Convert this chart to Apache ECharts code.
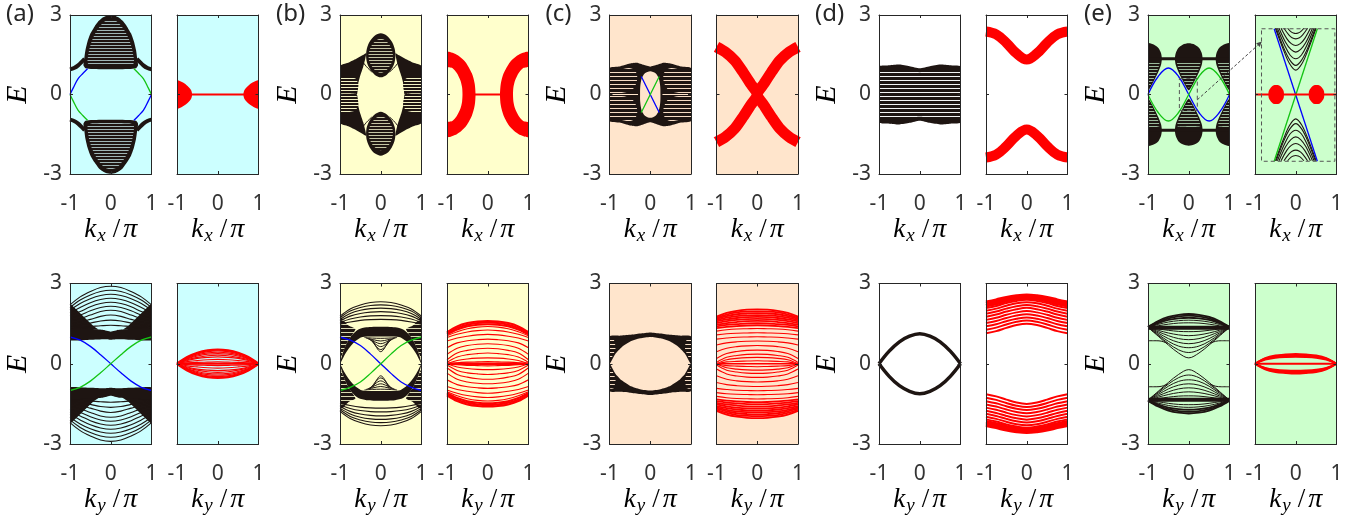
<!DOCTYPE html>
<html>
<head>
<meta charset="utf-8">
<script src="https://cdn.jsdelivr.net/npm/echarts/dist/echarts.min.js"></script>
<style>
html, body { margin: 0; padding: 0; background: #ffffff; }
#chart { width: 1364px; height: 525px; }
</style>
</head>
<body>
<div id="chart"></div>
<script>
// ---------- shared axis data ----------
const X_TICKS = [-1, 0, 1];
const E_TICKS = [-3, 0, 3];
const K9 = [-1, -0.75, -0.5, -0.25, 0, 0.25, 0.5, 0.75, 1];
const GROUP_TAG = ['(a)', '(b)', '(c)', '(d)', '(e)'];
const ROW_SUB = ['x', 'y'];

// ---------- (a) ----------
// kx cut: bulk domes, side wings and chiral edge branches
const aDome = [[0,2.99],[-0.12,2.96],[-0.22,2.88],[-0.3,2.77],[-0.4,2.56],[-0.5,2.3],[-0.57,2.0],[-0.62,1.68],[-0.65,1.35],[-0.67,1.1],[-0.62,0.99],[-0.45,0.96],[0,0.95],[0.45,0.96],[0.62,0.99],[0.67,1.1],[0.65,1.35],[0.62,1.68],[0.57,2.0],[0.5,2.3],[0.4,2.56],[0.3,2.77],[0.22,2.88],[0.12,2.96]];
const aDomeCore = [[0,2.82],[-0.14,2.76],[-0.25,2.6],[-0.36,2.36],[-0.45,2.08],[-0.52,1.75],[-0.56,1.42],[-0.57,1.2],[-0.5,1.1],[0,1.08],[0.5,1.1],[0.57,1.2],[0.56,1.42],[0.52,1.75],[0.45,2.08],[0.36,2.36],[0.25,2.6],[0.14,2.76]];
const aWing = [[-1,0.95],[-0.9,1.0],[-0.8,1.1],[-0.7,1.25],[-0.64,1.35]];
const aEdgeUp = [[-0.57,0.97],[-0.68,0.8],[-0.8,0.6],[-0.92,0.25],[-1,0]];
// kx cut, second panel
const aRedCap = [[-1,0.52],[-0.88,0.47],[-0.77,0.36],[-0.66,0.18],[-0.63,0],[-0.66,-0.18],[-0.77,-0.36],[-0.88,-0.47],[-1,-0.52]];
// ky cut: nested bulk arcs (E at k = -1, -0.75, -0.5, -0.25, 0)
const aBulkArcs = [
  [2.2,2.5,2.7,2.85,2.9],[2.1,2.38,2.57,2.7,2.75],[2.0,2.25,2.43,2.55,2.6],
  [1.9,2.1,2.28,2.4,2.45],[1.8,1.95,2.13,2.25,2.3],[1.7,1.82,1.98,2.1,2.15],
  [1.6,1.68,1.82,1.95,2.0],[1.5,1.56,1.66,1.77,1.82],[1.42,1.46,1.52,1.6,1.63],
  [1.35,1.37,1.39,1.42,1.44]
];
const aWedge = [[-1,2.25],[-0.8,1.96],[-0.6,1.66],[-0.42,1.4],[-0.3,1.28],[-1,1.28]];
const aBand = [[-1,1.3],[-0.5,1.3],[-0.2,1.27],[0,1.2],[0.2,1.27],[0.5,1.3],[1,1.3],[1,0.88],[0.5,0.9],[0.15,0.92],[0,0.9],[-0.15,0.92],[-0.5,0.9],[-1,0.88]];
const aEdgeY = [1.0,0.88,0.65,0.34,0,-0.34,-0.65,-0.88,-1.0];
const aLens = [
  [0,0.25,0.41,0.5,0.53],[0,0.23,0.37,0.45,0.48],[0,0.2,0.33,0.41,0.43],
  [0,0.18,0.29,0.36,0.38],[0,0.15,0.24,0.3,0.32],[0,0.12,0.2,0.24,0.26],
  [0,0.08,0.12,0.15,0.16],[0,0.03,0.05,0.06,0.07]
];

// ---------- (b) ----------
const bEllipse = [[0,2.31],[0.15,2.22],[0.27,2.0],[0.34,1.74],[0.36,1.48],[0.34,1.22],[0.27,0.97],[0.15,0.75],[0,0.65],[-0.15,0.75],[-0.27,0.97],[-0.34,1.22],[-0.36,1.48],[-0.34,1.74],[-0.27,2.0],[-0.15,2.22]];
const bEllipseCore = [[0,2.1],[0.12,2.03],[0.22,1.86],[0.28,1.65],[0.3,1.46],[0.28,1.25],[0.21,1.05],[0.11,0.88],[0,0.82],[-0.11,0.88],[-0.21,1.05],[-0.28,1.25],[-0.3,1.46],[-0.28,1.65],[-0.22,1.86],[-0.12,2.03]];
const bSide = [[-1,1.08],[-0.8,1.2],[-0.6,1.35],[-0.45,1.48],[-0.36,1.56],[-0.38,1.35],[-0.43,1.05],[-0.51,0.68],[-0.57,0.3],[-0.59,0],[-1,0]];
const bSideCore = [[-1,0.65],[-0.8,0.66],[-0.62,0.6],[-0.55,0.4],[-0.56,0.2],[-0.6,0.06],[-1,0.06]];
const bThin = [[-0.45,1.25],[-0.35,1.05],[-0.22,0.85]];
const bRedArc = [[-1,1.6],[-0.76,1.5],[-0.55,1.23],[-0.39,0.8],[-0.32,0.41],[-0.3,0],[-0.32,-0.41],[-0.39,-0.8],[-0.55,-1.23],[-0.76,-1.5],[-1,-1.6],[-1,-1.06],[-0.87,-1.0],[-0.76,-0.81],[-0.67,-0.53],[-0.63,-0.27],[-0.62,0],[-0.63,0.27],[-0.67,0.53],[-0.76,0.81],[-0.87,1.0],[-1,1.06]];
const bRedLink = [[-0.32,0],[0.32,0]];
const bOuterArcs = [
  [1.78,2.05,2.2,2.29,2.32],[1.72,1.97,2.1,2.18,2.2],[1.66,1.88,2.0,2.06,2.08],
  [1.6,1.78,1.88,1.93,1.95],[1.54,1.67,1.75,1.79,1.8],[1.48,1.56,1.62,1.65,1.66]
];
const bEye = [[-1,0],[-0.92,0.45],[-0.82,0.8],[-0.7,1.08],[-0.55,1.28],[-0.35,1.36],[0,1.38],[0.35,1.36],[0.55,1.28],[0.7,1.08],[0.82,0.8],[0.92,0.45],[1,0],[0.88,0.35],[0.76,0.62],[0.62,0.85],[0.45,1.0],[0,1.02],[-0.45,1.0],[-0.62,0.85],[-0.76,0.62],[-0.88,0.35]];
const bFan = [[-1,1.78],[-0.9,1.6],[-0.78,1.42],[-0.62,1.3],[-0.7,1.08],[-0.82,0.8],[-0.92,0.45],[-1,0.2]];
const bInnerArcs = [
  [[-0.4,0.98],[-0.2,0.96],[0,0.95],[0.2,0.96],[0.4,0.98]],
  [[-0.36,0.96],[-0.18,0.9],[0,0.85],[0.18,0.9],[0.36,0.96]],
  [[-0.32,0.94],[-0.16,0.83],[0,0.75],[0.16,0.83],[0.32,0.94]],
  [[-0.28,0.93],[-0.14,0.75],[0,0.64],[0.14,0.75],[0.28,0.93]],
  [[-0.24,0.92],[-0.12,0.66],[0,0.53],[0.12,0.66],[0.24,0.92]],
  [[-0.2,0.92],[-0.1,0.6],[0,0.45],[0.1,0.6],[0.2,0.92]]
];
const bEdgeY = [1.0,0.88,0.68,0.36,0,-0.36,-0.68,-0.88,-1.0];
const bRedArcs = [
  [1.18,1.4,1.52,1.58,1.6],[1.14,1.34,1.46,1.52,1.54],[1.1,1.28,1.4,1.46,1.48],
  [1.05,1.2,1.31,1.37,1.39],[0.98,1.1,1.19,1.24,1.26],[0.85,0.96,1.03,1.08,1.1],
  [0.6,0.78,0.86,0.9,0.92],[0.35,0.58,0.68,0.73,0.75],[0.15,0.4,0.5,0.56,0.58],
  [0.05,0.25,0.34,0.38,0.4],[0,0.12,0.18,0.21,0.22],[0,0.04,0.06,0.07,0.08]
];

// ---------- (c) ----------
const cBody = [[-1,1.0],[-0.75,1.06],[-0.5,1.17],[-0.33,1.2],[-0.16,1.12],[0,1.05],[0.16,1.12],[0.33,1.2],[0.5,1.17],[0.75,1.06],[1,1.0],[1,-1.0],[0.75,-1.06],[0.5,-1.17],[0.33,-1.2],[0.16,-1.12],[0,-1.05],[-0.16,-1.12],[-0.33,-1.2],[-0.5,-1.17],[-0.75,-1.06],[-1,-1.0]];
const cHole = [[0,0.88],[0.13,0.8],[0.21,0.6],[0.245,0.3],[0.25,0],[0.245,-0.3],[0.21,-0.6],[0.13,-0.8],[0,-0.88],[-0.13,-0.8],[-0.21,-0.6],[-0.245,-0.3],[-0.25,0],[-0.245,0.3],[-0.21,0.6],[-0.13,0.8]];
const cCore = [[-1,0.88],[-0.75,0.94],[-0.52,1.0],[-0.38,0.92],[-0.32,0.68],[-0.35,0.4],[-0.46,0.16],[-0.7,0.06],[-1,0.06]];
const cEdge = [[-0.22,0.68],[0,0],[0.22,-0.68]];
const cRedArm = [[-1,1.8],[-0.78,1.6],[-0.55,1.28],[-0.35,0.85],[-0.17,0.42],[0,0],[-0.17,-0.42],[-0.35,-0.85],[-0.55,-1.28],[-0.78,-1.6],[-1,-1.8]];
const cLens = [[-1,1.02],[-0.75,1.05],[-0.5,1.08],[-0.25,1.13],[0,1.17],[0.25,1.13],[0.5,1.08],[0.75,1.05],[1,1.02],[1,0],[0.85,0.38],[0.7,0.62],[0.5,0.82],[0.25,0.95],[0,1.0],[-0.25,0.95],[-0.5,0.82],[-0.7,0.62],[-0.85,0.38],[-1,0]];
const cFan = [[-1,0.92],[-0.9,0.92],[-0.85,0.6],[-0.92,0.3],[-1,0.15]];
const cRedArcs = [
  [1.76,1.9,1.98,2.02,2.03],[1.72,1.84,1.92,1.95,1.96],[1.68,1.78,1.85,1.88,1.89],
  [1.63,1.72,1.78,1.81,1.82],[1.58,1.66,1.71,1.74,1.75],[1.52,1.59,1.64,1.67,1.68],
  [1.46,1.52,1.56,1.59,1.6],[1.4,1.45,1.48,1.51,1.52],[1.33,1.38,1.41,1.43,1.44],
  [1.22,1.27,1.3,1.31,1.32],[1.08,1.12,1.14,1.15,1.16],[0.92,0.96,0.99,1.0,1.01],
  [0.7,0.78,0.82,0.84,0.85],[0.45,0.58,0.64,0.67,0.68],[0.2,0.38,0.46,0.5,0.51],
  [0.05,0.24,0.31,0.35,0.36],[0,0.15,0.2,0.23,0.24],[0,0.07,0.09,0.1,0.11]
];

// ---------- (d) ----------
const dBody = [[-1,1.05],[-0.75,1.1],[-0.5,1.13],[-0.25,1.07],[0,0.99],[0.25,1.07],[0.5,1.13],[0.75,1.1],[1,1.05],[1,-1.05],[0.75,-1.1],[0.5,-1.13],[0.25,-1.07],[0,-0.99],[-0.25,-1.07],[-0.5,-1.13],[-0.75,-1.1],[-1,-1.05]];
const dCore = [[-1,0.88],[-0.5,0.95],[0,0.84],[0.5,0.95],[1,0.88],[1,-0.88],[0.5,-0.95],[0,-0.84],[-0.5,-0.95],[-1,-0.88]];
const dRedValley = [2.38,2.27,1.95,1.55,1.32];
const dLensY = [0,0.47,0.82,1.03,1.12];
const dRedBand = [
  [2.3,2.38,2.47,2.53,2.56],[2.24,2.32,2.42,2.49,2.52],[2.17,2.25,2.35,2.43,2.46],
  [2.08,2.16,2.27,2.35,2.39],[1.98,2.06,2.17,2.26,2.3],[1.87,1.95,2.06,2.15,2.2],
  [1.76,1.84,1.95,2.04,2.09],[1.64,1.72,1.83,1.92,1.97],[1.52,1.6,1.71,1.8,1.85],
  [1.4,1.48,1.59,1.68,1.73],[1.27,1.35,1.47,1.57,1.62],[1.14,1.22,1.34,1.45,1.5]
];

// ---------- (e) ----------
const eBlob = [[0,1.93],[-0.15,1.88],[-0.26,1.75],[-0.32,1.56],[-0.34,1.35],[-0.32,1.12],[-0.26,0.88],[-0.18,0.62],[-0.1,0.38],[-0.03,0.2],[0,0.16],[0.03,0.2],[0.1,0.38],[0.18,0.62],[0.26,0.88],[0.32,1.12],[0.34,1.35],[0.32,1.56],[0.26,1.75],[0.15,1.88]];
const eBlobCore = [[-0.28,1.2],[0.28,1.2],[0.23,0.9],[0.15,0.62],[0.08,0.4],[0,0.26],[-0.08,0.4],[-0.15,0.62],[-0.23,0.9]];
const eSideBlob = [[-1,1.93],[-0.85,1.88],[-0.74,1.75],[-0.68,1.56],[-0.66,1.35],[-0.68,1.12],[-0.74,0.88],[-0.82,0.62],[-0.9,0.38],[-0.97,0.2],[-1,0.16]];
const eSideCore = [[-1,1.2],[-0.72,1.2],[-0.77,0.9],[-0.85,0.62],[-0.92,0.4],[-1,0.26]];
const eLevel = [[-1,1.35],[1,1.35]];
const eEdgeY = [0,0.68,1.0,0.68,0,-0.68,-1.0,-0.68,0];
const eBox = [[-0.23,0.6],[0.21,0.6],[0.21,-0.6],[-0.23,-0.6],[-0.23,0.6]];
const eInsetBox = [[-0.84,2.48],[0.96,2.48],[0.96,-2.52],[-0.84,-2.52],[-0.84,2.48]];
const eInsetEdge = [[-0.53,2.48],[0.53,-2.52]];
const eCones = [
  [[-0.2,2.5],[-0.12,2.37],[-0.06,2.32],[0,2.3],[0.06,2.32],[0.12,2.37],[0.2,2.5]],
  [[-0.29,2.5],[-0.17,2.25],[-0.09,2.14],[0,2.1],[0.09,2.14],[0.17,2.25],[0.29,2.5]],
  [[-0.36,2.5],[-0.22,2.11],[-0.11,1.92],[0,1.85],[0.11,1.92],[0.22,2.11],[0.36,2.5]],
  [[-0.41,2.5],[-0.25,1.97],[-0.12,1.7],[0,1.6],[0.12,1.7],[0.25,1.97],[0.41,2.5]],
  [[-0.45,2.5],[-0.27,1.85],[-0.14,1.49],[0,1.35],[0.14,1.49],[0.27,1.85],[0.45,2.5]],
  [[-0.48,2.5],[-0.29,1.74],[-0.14,1.29],[0,1.1],[0.14,1.29],[0.29,1.74],[0.48,2.5]],
  [[-0.5,2.5],[-0.3,1.68],[-0.15,1.16],[0,0.92],[0.15,1.16],[0.3,1.68],[0.5,2.5]]
];
const eDotL = [[-0.48,0.36],[-0.35,0.26],[-0.29,0],[-0.35,-0.26],[-0.48,-0.36],[-0.61,-0.26],[-0.67,0],[-0.61,0.26]];
const eDotR = [[0.51,0.36],[0.64,0.26],[0.7,0],[0.64,-0.26],[0.51,-0.36],[0.38,-0.26],[0.32,0],[0.38,0.26]];
const eArrowFrom = [0.21, -0.2];
const eArrowTo = [-0.83, 2.0];
const eTopArcs = [
  [1.38,1.6,1.75,1.83,1.86],[1.37,1.56,1.7,1.77,1.8],[1.36,1.52,1.64,1.7,1.72],
  [1.36,1.47,1.56,1.61,1.63],[1.36,1.42,1.48,1.52,1.53]
];
const eVArcs = [
  [1.36,1.3,1.25,1.21,1.2],[1.36,1.25,1.15,1.08,1.05],[1.36,1.2,1.05,0.94,0.9],
  [1.36,1.15,0.94,0.8,0.75],[1.36,1.1,0.84,0.66,0.6],[1.36,1.06,0.76,0.52,0.42],
  [1.36,1.03,0.7,0.4,0.22]
];
const eSideLine = [[-1,0.86],[-0.8,0.86],[-0.66,0.84],[-0.52,0.76]];
const eLens = [[0,0.21,0.31,0.35,0.37],[0,0.19,0.28,0.32,0.33],[0,0.17,0.25,0.28,0.29],[0,0.15,0.22,0.25,0.26]];

// ---------- styling ----------
const FRAME = '#262626';
const INK = '#1e1512';
const RED = '#ff0000';
const BLUE = '#0000ff';
const GREEN = '#14c414';
const BOXGRAY = '#555555';
const TICK_FONT = 'Noto Sans';
const MATH_FONT = 'Liberation Serif';
const GROUP_BG = ['#ccffff', '#ffffcc', '#ffe5cc', '#ffffff', '#ccffcc'];
const GROUP_LEFT = [70, 340, 609.5, 879, 1148];
const PANEL_STEP = 107, PANEL_W = 81.5;
const ROW_TOP = [15, 283.5], ROW_H = [159, 160.5];

// thin light lines on a dark ground, used for densely packed bands
function stripes(dark, light, period, lightW) {
  const c = document.createElement('canvas');
  c.width = 4; c.height = period;
  const ctx = c.getContext('2d');
  ctx.fillStyle = dark; ctx.fillRect(0, 0, 4, period);
  ctx.fillStyle = light; ctx.fillRect(0, 0, 4, lightW);
  return { image: c, repeat: 'repeat' };
}
const STRIPE = {
  a: stripes(INK, '#9fb5b5', 3, 1),
  b: stripes(INK, '#c4c4a4', 3, 1),
  bSide: stripes(INK, '#f2f2c4', 3, 1),
  bFan: stripes(INK, '#d8d8b0', 4, 1),
  c: stripes(INK, '#f5dcc4', 4, 1),
  d: stripes(INK, '#f4f4f4', 4, 1),
  e: stripes(INK, '#9ab89a', 3, 1)
};

// ---------- helpers ----------
const sym = v => K9.map((k, i) => [k, v[i <= 4 ? i : 8 - i]]);
const full = v => K9.map((k, i) => [k, v[i]]);
const flipE = pts => pts.map(([k, e]) => [k, -e]);
const flipK = pts => pts.map(([k, e]) => [-k, e]);
const four = pts => [pts, flipK(pts), flipE(pts), flipE(flipK(pts))];
const gi = (row, grp, pan) => row * 10 + grp * 2 + pan;

const series = [];
function poly(g, pts, fill, o = {}) {
  series.push({
    type: 'custom', coordinateSystem: 'cartesian2d',
    xAxisIndex: 2 * g, yAxisIndex: 2 * g,
    data: [pts[0]], clip: true, silent: true, z: o.z || 2,
    renderItem: (params, api) => ({
      type: 'polygon',
      shape: { points: pts.map(p => api.coord(p)), smooth: o.smooth === undefined ? 0.25 : o.smooth },
      style: { fill: fill, stroke: o.stroke || null, lineWidth: o.lw || 0 }
    })
  });
}
function curve(g, pts, color, width, o = {}) {
  series.push({
    type: 'line', xAxisIndex: 2 * g, yAxisIndex: 2 * g, data: pts,
    symbol: 'none', showSymbol: false, silent: true, clip: true, z: o.z || 3,
    smooth: o.smooth === undefined ? 0.35 : o.smooth,
    lineStyle: { color: color, width: width, type: o.dash ? [4, 3] : 'solid' }
  });
}

// ---------- (a) panels ----------
(function () {
  let g = gi(0, 0, 0);
  [aDome, flipE(aDome)].forEach(p => poly(g, p, INK, { smooth: 0.2 }));
  [aDomeCore, flipE(aDomeCore)].forEach(p => poly(g, p, STRIPE.a, { smooth: 0.2 }));
  four(aWing).forEach(p => curve(g, p, INK, 4));
  curve(g, aEdgeUp, BLUE, 1.3);
  curve(g, flipK(aEdgeUp), GREEN, 1.3);
  curve(g, flipE(aEdgeUp), GREEN, 1.3);
  curve(g, flipE(flipK(aEdgeUp)), BLUE, 1.3);

  g = gi(0, 0, 1);
  poly(g, aRedCap, RED, { smooth: 0.3 });
  poly(g, flipK(aRedCap), RED, { smooth: 0.3 });
  curve(g, [[-1, 0], [1, 0]], RED, 2, { smooth: 0 });

  g = gi(1, 0, 0);
  aBulkArcs.forEach(v => { curve(g, sym(v), INK, 1.1); curve(g, flipE(sym(v)), INK, 1.1); });
  four(aWedge).forEach(p => poly(g, p, INK, { smooth: 0 }));
  [aBand, flipE(aBand)].forEach(p => poly(g, p, INK, { smooth: 0.15 }));
  curve(g, full(aEdgeY), BLUE, 1.3, { z: 5 });
  curve(g, flipK(full(aEdgeY)), GREEN, 1.3, { z: 5 });

  g = gi(1, 0, 1);
  aLens.forEach((v, i) => {
    const w = i === 0 ? 2.2 : 1.2;
    curve(g, sym(v), RED, w); curve(g, flipE(sym(v)), RED, w);
  });
  curve(g, [[-1, 0], [1, 0]], RED, 2, { smooth: 0 });
})();

// ---------- (b) panels ----------
(function () {
  let g = gi(0, 1, 0);
  four(bSide).forEach(p => poly(g, p, INK, { smooth: 0.2 }));
  four(bSideCore).forEach(p => poly(g, p, STRIPE.bSide, { smooth: 0.2 }));
  [bEllipse, flipE(bEllipse)].forEach(p => poly(g, p, INK, { smooth: 0.3 }));
  [bEllipseCore, flipE(bEllipseCore)].forEach(p => poly(g, p, STRIPE.b, { smooth: 0.3 }));
  four(bThin).forEach(p => curve(g, p, INK, 1));

  g = gi(0, 1, 1);
  poly(g, bRedArc, RED, { smooth: 0.25 });
  poly(g, flipK(bRedArc), RED, { smooth: 0.25 });
  curve(g, bRedLink, RED, 2, { smooth: 0 });

  g = gi(1, 1, 0);
  bOuterArcs.forEach(v => { curve(g, sym(v), INK, 1.1); curve(g, flipE(sym(v)), INK, 1.1); });
  four(bFan).forEach(p => poly(g, p, STRIPE.bFan, { smooth: 0.15 }));
  [bEye, flipE(bEye)].forEach(p => poly(g, p, INK, { smooth: 0.25 }));
  bInnerArcs.forEach(p => { curve(g, p, INK, 1); curve(g, flipE(p), INK, 1); });
  curve(g, full(bEdgeY), BLUE, 1.3, { z: 5 });
  curve(g, flipK(full(bEdgeY)), GREEN, 1.3, { z: 5 });

  g = gi(1, 1, 1);
  bRedArcs.forEach((v, i) => {
    const w = i < 3 ? 2 : 1.1;
    curve(g, sym(v), RED, w); curve(g, flipE(sym(v)), RED, w);
  });
  curve(g, [[-1, 0], [1, 0]], RED, 2.5, { smooth: 0 });
})();

// ---------- (c) panels ----------
(function () {
  let g = gi(0, 2, 0);
  poly(g, cBody, INK, { smooth: 0.15 });
  four(cCore).forEach(p => poly(g, p, STRIPE.c, { smooth: 0.3 }));
  curve(g, [[-1, 0], [-0.3, 0]], GROUP_BG[2], 1.2, { smooth: 0 });
  curve(g, [[0.3, 0], [1, 0]], GROUP_BG[2], 1.2, { smooth: 0 });
  poly(g, cHole, GROUP_BG[2], { smooth: 0.3, z: 4 });
  curve(g, cEdge, BLUE, 1.3, { smooth: 0, z: 5 });
  curve(g, flipK(cEdge), GREEN, 1.3, { smooth: 0, z: 5 });

  g = gi(0, 2, 1);
  curve(g, cRedArm, RED, 11, { smooth: 0.25 });
  curve(g, flipK(cRedArm), RED, 11, { smooth: 0.25 });

  g = gi(1, 2, 0);
  [cLens, flipE(cLens)].forEach(p => poly(g, p, INK, { smooth: 0.2 }));
  four(cFan).forEach(p => poly(g, p, STRIPE.c, { smooth: 0.2 }));

  g = gi(1, 2, 1);
  cRedArcs.forEach((v, i) => {
    const w = i < 9 ? 1.8 : 1.1;
    curve(g, sym(v), RED, w); curve(g, flipE(sym(v)), RED, w);
  });
  curve(g, [[-1, 0], [1, 0]], RED, 1.5, { smooth: 0 });
})();

// ---------- (d) panels ----------
(function () {
  let g = gi(0, 3, 0);
  poly(g, dBody, INK, { smooth: 0.2 });
  poly(g, dCore, STRIPE.d, { smooth: 0.2 });

  g = gi(0, 3, 1);
  curve(g, sym(dRedValley), RED, 10, { smooth: 0.4 });
  curve(g, flipE(sym(dRedValley)), RED, 10, { smooth: 0.4 });

  g = gi(1, 3, 0);
  curve(g, sym(dLensY), INK, 3.5, { smooth: 0.4 });
  curve(g, flipE(sym(dLensY)), INK, 3.5, { smooth: 0.4 });

  g = gi(1, 3, 1);
  dRedBand.forEach((v, i) => {
    const w = i < 3 ? 3.5 : 2;
    curve(g, sym(v), RED, w); curve(g, flipE(sym(v)), RED, w);
  });
})();

// ---------- (e) panels ----------
(function () {
  let g = gi(0, 4, 0);
  [eLevel, flipE(eLevel)].forEach(p => curve(g, p, INK, 3, { smooth: 0 }));
  [eBlob, flipE(eBlob)].forEach(p => poly(g, p, INK, { smooth: 0.25 }));
  four(eSideBlob).forEach(p => poly(g, p, INK, { smooth: 0.25 }));
  [eBlobCore, flipE(eBlobCore)].forEach(p => poly(g, p, STRIPE.e, { smooth: 0.2 }));
  four(eSideCore).forEach(p => poly(g, p, STRIPE.e, { smooth: 0.2 }));
  curve(g, eBox, BOXGRAY, 1, { smooth: 0, dash: true, z: 6 });
  curve(g, full(eEdgeY), BLUE, 1.3, { smooth: 0.4, z: 5 });
  curve(g, flipE(full(eEdgeY)), GREEN, 1.3, { smooth: 0.4, z: 5 });

  g = gi(0, 4, 1);
  eCones.forEach(p => { curve(g, p, INK, 1.1); curve(g, flipE(p), INK, 1.1); });
  curve(g, eInsetEdge, BLUE, 1.3, { smooth: 0, z: 5 });
  curve(g, flipK(eInsetEdge), GREEN, 1.3, { smooth: 0, z: 5 });
  curve(g, [[-1, 0], [1, 0]], RED, 2, { smooth: 0, z: 6 });
  poly(g, eDotL, RED, { smooth: 0.5, z: 6 });
  poly(g, eDotR, RED, { smooth: 0.5, z: 6 });
  curve(g, eInsetBox, BOXGRAY, 1, { smooth: 0, dash: true, z: 6 });

  g = gi(1, 4, 0);
  [eLevel, flipE(eLevel)].forEach(p => curve(g, p, INK, 4, { smooth: 0 }));
  eTopArcs.forEach((v, i) => {
    const w = i < 3 ? 1.8 : 1;
    curve(g, sym(v), INK, w); curve(g, flipE(sym(v)), INK, w);
  });
  eVArcs.forEach(v => { curve(g, sym(v), INK, 1); curve(g, flipE(sym(v)), INK, 1); });
  four(eSideLine).forEach(p => curve(g, p, INK, 1));

  g = gi(1, 4, 1);
  eLens.forEach(v => { curve(g, sym(v), RED, 1.8); curve(g, flipE(sym(v)), RED, 1.8); });
  curve(g, [[-1, 0], [1, 0]], RED, 2.2, { smooth: 0 });
})();

// ---------- grids and axes ----------
const grids = [], xAxes = [], yAxes = [];
const tickLabel = { fontFamily: TICK_FONT, fontSize: 21, color: '#333333' };
const mathRich = {
  k: { fontFamily: MATH_FONT, fontStyle: 'italic', fontSize: 27, lineHeight: 32, color: '#000' },
  s: { fontFamily: MATH_FONT, fontStyle: 'italic', fontSize: 19, lineHeight: 15, verticalAlign: 'bottom', color: '#000', padding: [0, 4, 0, 1] },
  d: { fontFamily: MATH_FONT, fontSize: 27, lineHeight: 32, color: '#000', padding: [0, 3, 0, 3] },
  p: { fontFamily: MATH_FONT, fontStyle: 'italic', fontSize: 28, lineHeight: 32, color: '#000' }
};
for (let r = 0; r < 2; r++) {
  for (let g = 0; g < 5; g++) {
    for (let p = 0; p < 2; p++) {
      const i = gi(r, g, p);
      grids[i] = {
        left: GROUP_LEFT[g] + p * PANEL_STEP, top: ROW_TOP[r],
        width: PANEL_W, height: ROW_H[r],
        show: true, backgroundColor: GROUP_BG[g], borderWidth: 0
      };
      const line = { show: true, onZero: false, lineStyle: { color: FRAME, width: 1 } };
      const tick = { show: true, inside: true, length: 3, lineStyle: { color: FRAME, width: 1 } };
      const xBase = {
        gridIndex: i, type: 'value', min: X_TICKS[0], max: X_TICKS[X_TICKS.length - 1],
        interval: X_TICKS[1] - X_TICKS[0], splitLine: { show: false },
        axisLine: line, axisTick: tick, z: 10
      };
      const yBase = {
        gridIndex: i, type: 'value', min: E_TICKS[0], max: E_TICKS[E_TICKS.length - 1],
        interval: E_TICKS[1] - E_TICKS[0], splitLine: { show: false },
        axisLine: line, axisTick: tick, z: 10
      };
      xAxes[2 * i] = Object.assign({}, xBase, {
        position: 'bottom',
        axisLabel: Object.assign({ margin: 20 }, tickLabel),
        name: '{k|k}{s|' + ROW_SUB[r] + '}{d|/}{p|π}',
        nameLocation: 'middle', nameGap: 38,
        nameTextStyle: { rich: mathRich }
      });
      xAxes[2 * i + 1] = Object.assign({}, xBase, { position: 'top', axisLabel: { show: false } });
      yAxes[2 * i] = Object.assign({}, yBase, {
        position: 'left',
        axisLabel: Object.assign({ show: p === 0, margin: 8 }, tickLabel),
        name: p === 0 ? 'E' : '', nameLocation: 'middle', nameGap: 37,
        nameTextStyle: { fontFamily: MATH_FONT, fontStyle: 'italic', fontSize: 30, color: '#000' }
      });
      yAxes[2 * i + 1] = Object.assign({}, yBase, { position: 'right', axisLabel: { show: false } });
    }
  }
}

const tags = GROUP_TAG.map((t, g) => ({
  type: 'text', left: GROUP_LEFT[g] - 64, top: 2, z: 100,
  style: { text: t, font: '24px "Noto Sans"', fill: '#262626' }
}));

const chart = echarts.init(document.getElementById('chart'), null, { renderer: 'canvas' });
chart.setOption({
  animation: false,
  grid: grids, xAxis: xAxes, yAxis: yAxes,
  series: series,
  graphic: tags
});

// dashed pointer from the box in (e) to the magnified frame
const from = chart.convertToPixel({ xAxisIndex: 2 * gi(0, 4, 0), yAxisIndex: 2 * gi(0, 4, 0) }, eArrowFrom);
const to = chart.convertToPixel({ xAxisIndex: 2 * gi(0, 4, 1), yAxisIndex: 2 * gi(0, 4, 1) }, eArrowTo);
const ang = Math.atan2(to[1] - from[1], to[0] - from[0]);
const head = 6, spread = 0.45;
const tip = to;
const base = [tip[0] - head * Math.cos(ang), tip[1] - head * Math.sin(ang)];
chart.setOption({
  graphic: tags.concat([
    { type: 'line', z: 100, shape: { x1: from[0], y1: from[1], x2: base[0], y2: base[1] },
      style: { stroke: '#444444', lineWidth: 1, lineDash: [3, 2] } },
    { type: 'polygon', z: 100, shape: { points: [
        tip,
        [tip[0] - head * Math.cos(ang - spread), tip[1] - head * Math.sin(ang - spread)],
        [tip[0] - head * Math.cos(ang + spread), tip[1] - head * Math.sin(ang + spread)]
      ] }, style: { fill: '#444444' } }
  ])
});
</script>
</body>
</html>
